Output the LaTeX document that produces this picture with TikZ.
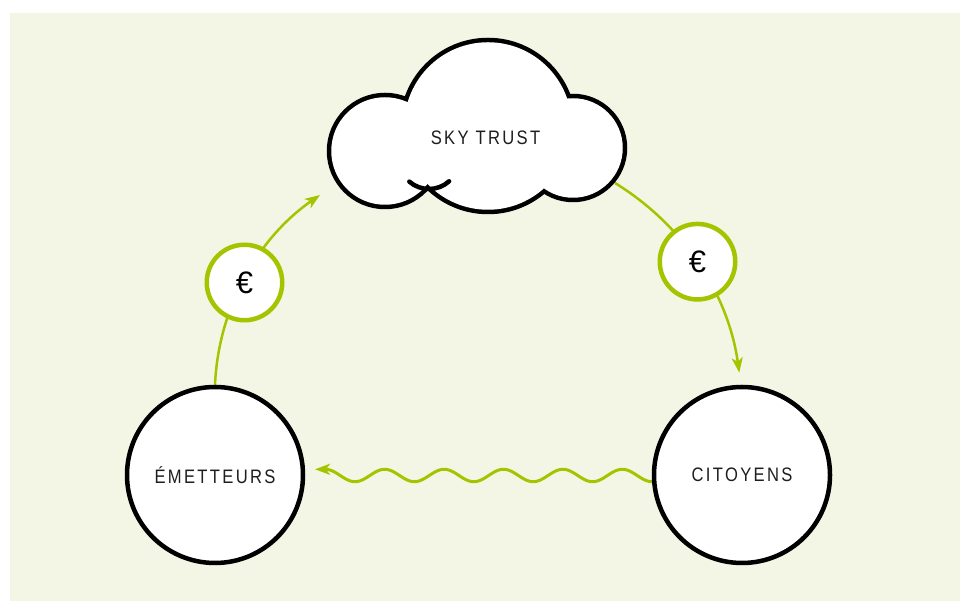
\documentclass[tikz,border=0pt]{standalone}
\usepackage{fontspec}
\setmainfont{Liberation Sans}
\newfontfamily\lblfont[LetterSpace=12,FakeStretch=0.85]{Liberation Sans}
\usetikzlibrary{arrows.meta}
\definecolor{bgc}{RGB}{243,246,228}
\definecolor{lime}{RGB}{164,196,0}
\definecolor{ink}{RGB}{30,30,30}
\pgfdeclarelayer{back}
\pgfdeclarelayer{mid}
\pgfsetlayers{back,mid,main}
\begin{document}
\begin{tikzpicture}[x=1pt,y=1pt,
  bigcirc/.style={circle,draw=black,line width=4.5pt,fill=white,minimum size=176pt,inner sep=0pt,font=\lblfont\fontsize{19.5}{21}\selectfont,text=ink},
  euro/.style={circle,draw=lime,line width=4.5pt,fill=white,minimum size=75.5pt,inner sep=0pt,font=\fontsize{31}{32}\selectfont,text=black},
  label/.style={font=\lblfont\fontsize{19.5}{21}\selectfont,text=ink,inner sep=0pt},
  flow/.style={draw=lime,line width=2.5pt,-{Stealth[length=15pt,width=11pt,inset=4pt]}},
  wave/.style={draw=lime,line width=3pt,-{Stealth[length=15pt,width=11pt,inset=4pt]}}]
\useasboundingbox (0,0) rectangle (960,601);
% nodes
\node[bigcirc] (emet) at (215,126) {ÉMETTEURS};
\node[bigcirc] (cit) at (742,126) {CITOYENS};
\node[euro] (eurL) at (244.5,318.5) {€};
\node[euro] (eurR) at (697.5,339.3) {€};
% cloud
\fill[black] (488,475) circle[radius=88.25] (385,450) circle[radius=58.25] (573,453) circle[radius=54.25];
\fill[white] (488,475) circle[radius=83.75] (385,450) circle[radius=53.75] (573,453) circle[radius=49.75];
\draw[line width=4.5pt,line cap=round] ([shift={(229:30)}]429,442) arc[start angle=229,end angle=312,radius=30];
\node[label] (sky) at (485.5,463) {SKY TRUST};
% connector ends
\coordinate (skyL) at (320,406);
\coordinate (skyR) at (615,418);
\coordinate (citIn) at (739.3,228.3);
\coordinate (emetIn) at (315,131.7);
\begin{pgfonlayer}{back}
\fill[bgc] (10,0) rectangle (960,588);
\end{pgfonlayer}
\begin{pgfonlayer}{mid}
\draw[flow] (emet.north) to[bend left=26.4,looseness=0.9] (skyL);
\draw[flow] (skyR) to[bend left=25.2,looseness=0.9] (citIn);
\draw[wave] plot[domain=652:325,samples=220] (\x,{125.5-6.2*cos(6.0606*(\x-652))}) -- (emetIn);
\end{pgfonlayer}
\end{tikzpicture}
\end{document}
